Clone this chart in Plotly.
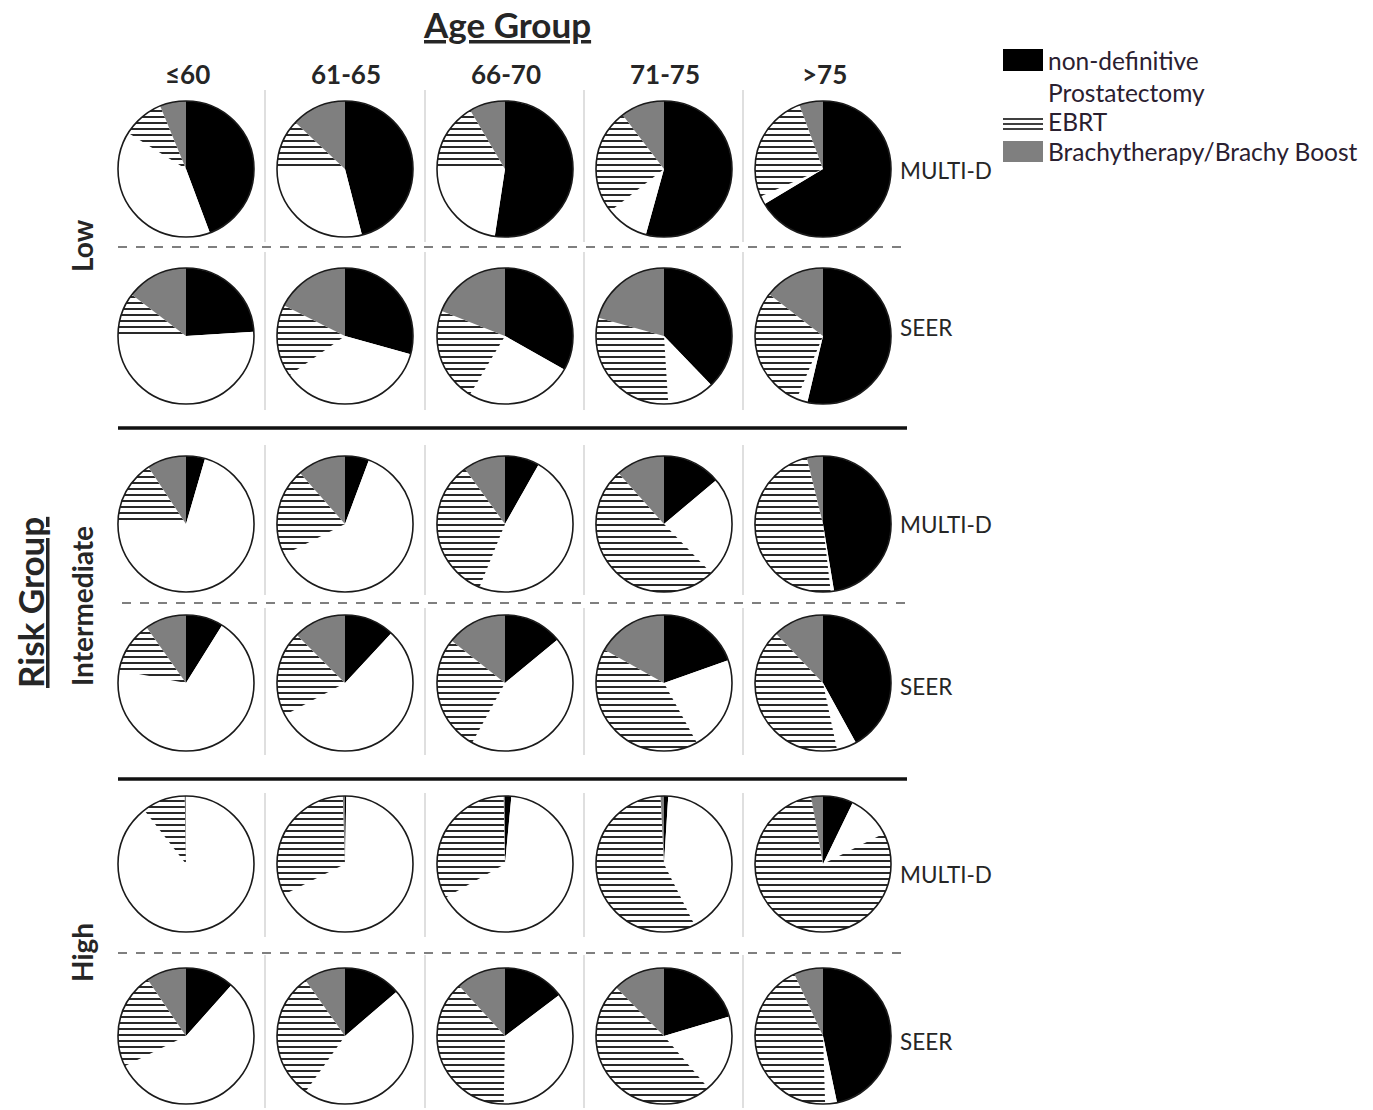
import plotly.graph_objects as go

# ---- data -------------------------------------------------------------
age_groups = ["≤60", "61-65", "66-70", "71-75", ">75"]
risk_groups = ["Low", "Intermediate", "High"]
sources = ["MULTI-D", "SEER"]
treatments = ["non-definitive", "Prostatectomy", "EBRT", "Brachytherapy/Brachy Boost"]

# percent of patients per treatment, one list per age group
# order: non-definitive, Prostatectomy, EBRT, Brachytherapy/Brachy Boost
low_multid = [[44.3, 39.6, 9.9, 6.2], [46.0, 29.0, 12.0, 13.0], [52.4, 22.6, 16.5, 8.5],
              [54.3, 10.1, 25.2, 10.4], [66.4, 2.0, 26.0, 5.6]]
low_seer = [[24.0, 51.0, 10.4, 14.6], [29.3, 35.9, 17.2, 17.6], [33.2, 25.4, 22.4, 19.0],
            [37.8, 11.2, 30.3, 20.7], [53.7, 2.6, 29.2, 14.5]]
int_multid = [[4.5, 71.0, 15.2, 9.3], [5.7, 61.8, 21.0, 11.5], [8.2, 47.9, 33.9, 10.0],
              [13.9, 23.9, 50.6, 11.6], [47.4, 0.8, 48.0, 3.8]]
int_seer = [[8.9, 69.1, 12.2, 9.8], [11.9, 55.3, 20.3, 12.5], [14.0, 44.0, 27.7, 14.3],
            [19.6, 22.4, 41.1, 16.9], [42.0, 4.7, 41.2, 12.1]]
high_multid = [[0.0, 89.5, 10.2, 0.3], [0.3, 67.3, 31.9, 0.5], [1.5, 65.3, 32.9, 0.3],
               [1.0, 41.6, 56.6, 0.8], [7.2, 10.4, 79.6, 2.8]]
high_seer = [[11.6, 56.1, 22.8, 9.5], [13.7, 46.1, 30.4, 9.8], [14.7, 35.6, 37.9, 11.8],
             [20.4, 18.4, 48.8, 12.4], [46.7, 2.8, 43.6, 6.9]]

panel_rows = [low_multid, low_seer, int_multid, int_seer, high_multid, high_seer]
row_sources = [sources[0], sources[1]] * 3

# ---- geometry (pixels) -------------------------------------------------
W, H = 1373, 1110
col_cx = [186, 345, 505, 664, 823]
row_cy = [169, 336, 524, 683, 864, 1036]
source_label_y = [170, 327, 524, 686, 874, 1041]
R = 68

def px(x):
    return x / W

def py(y):
    return 1 - y / H

slice_colors = ["#000000", "#ffffff", "#ffffff", "#7f7f7f"]
slice_patterns = ["", "", "-", ""]

fig = go.Figure()
for r, row_vals in enumerate(panel_rows):
    for c, vals in enumerate(row_vals):
        dom = dict(x=[px(col_cx[c] - R), px(col_cx[c] + R)],
                   y=[py(row_cy[r] + R), py(row_cy[r] - R)])
        fig.add_trace(go.Pie(
            labels=treatments, values=vals, domain=dom,
            sort=False, direction="clockwise", rotation=0,
            textinfo="none", showlegend=False,
            name=f"{row_sources[r]} {age_groups[c]}",
            hovertemplate="%{label}: %{value}%<extra></extra>",
            marker=dict(colors=slice_colors,
                        line=dict(width=0),
                        pattern=dict(shape=slice_patterns, fgcolor="#000000",
                                     bgcolor="#ffffff", size=6, solidity=0.28)),
        ))
        # outer circle outline
        fig.add_trace(go.Pie(
            values=[1], labels=[" "], domain=dom, sort=False,
            textinfo="none", showlegend=False, hoverinfo="skip",
            marker=dict(colors=["rgba(0,0,0,0)"], line=dict(color="#1a1a1a", width=1.6)),
        ))

shapes = []
# light vertical separators between age-group columns
sep_x = [265, 425, 584, 743]
seg_y = [(90, 242), (252, 410), (445, 595), (608, 755), (793, 937), (955, 1108)]
for x in sep_x:
    for y0, y1 in seg_y:
        shapes.append(dict(type="line", xref="paper", yref="paper",
                           x0=px(x), x1=px(x), y0=py(y0), y1=py(y1),
                           line=dict(color="#d4d4d4", width=1.5)))
# dashed lines between MULTI-D and SEER
for y, x0, x1 in [(247, 118, 908), (603, 122, 913), (953, 118, 908)]:
    shapes.append(dict(type="line", xref="paper", yref="paper",
                       x0=px(x0), x1=px(x1), y0=py(y), y1=py(y),
                       line=dict(color="#555555", width=1.3, dash="dash")))
# heavy lines between risk groups
for y in [428, 779]:
    shapes.append(dict(type="line", xref="paper", yref="paper",
                       x0=px(118), x1=px(907), y0=py(y), y1=py(y),
                       line=dict(color="#111111", width=3.5)))

# legend swatches
shapes.append(dict(type="rect", xref="paper", yref="paper",
                   x0=px(1003), x1=px(1043), y0=py(71), y1=py(49),
                   fillcolor="#000000", line=dict(width=0)))
for y in [119, 124, 129]:
    shapes.append(dict(type="line", xref="paper", yref="paper",
                       x0=px(1003), x1=px(1043), y0=py(y), y1=py(y),
                       line=dict(color="#000000", width=1.6)))
shapes.append(dict(type="rect", xref="paper", yref="paper",
                   x0=px(1003), x1=px(1043), y0=py(162), y1=py(141),
                   fillcolor="#7f7f7f", line=dict(width=0)))

FONT = "Lato"
TXT = "#262626"
ann = []
ann.append(dict(text="<b>Age Group</b>", x=px(507), y=py(24), xref="paper", yref="paper",
                showarrow=False, xanchor="center", yanchor="middle",
                font=dict(family=FONT, size=35, color=TXT, lineposition="under")))
for c, lab in enumerate(age_groups):
    ann.append(dict(text=f"<b>{lab}</b>", x=px(col_cx[c] + 1), y=py(74), xref="paper", yref="paper",
                    showarrow=False, xanchor="center", yanchor="middle",
                    font=dict(family=FONT, size=26, color=TXT)))
ann.append(dict(text="<b>Risk Group</b>", x=px(30), y=py(603), xref="paper", yref="paper",
                showarrow=False, xanchor="center", yanchor="middle", textangle=-90,
                font=dict(family=FONT, size=35, color=TXT, lineposition="under")))
for lab, y in zip(risk_groups, [246, 606, 953]):
    ann.append(dict(text=f"<b>{lab}</b>", x=px(82), y=py(y), xref="paper", yref="paper",
                    showarrow=False, xanchor="center", yanchor="middle", textangle=-90,
                    font=dict(family=FONT, size=28, color=TXT)))
for r, src in enumerate(row_sources):
    ann.append(dict(text=src, x=px(898), y=py(source_label_y[r]), xref="paper", yref="paper",
                    showarrow=False, xanchor="left", yanchor="middle",
                    font=dict(family=FONT, size=22.5, color=TXT)))
for lab, y in zip(treatments, [60, 92, 122, 152]):
    ann.append(dict(text=lab, x=px(1046), y=py(y), xref="paper", yref="paper",
                    showarrow=False, xanchor="left", yanchor="middle",
                    font=dict(family=FONT, size=24.5, color="#2a2030")))

fig.update_layout(width=W, height=H, margin=dict(l=0, r=0, t=0, b=0),
                  paper_bgcolor="white", plot_bgcolor="white",
                  shapes=shapes, annotations=ann, showlegend=False)
fig.write_html("out.html")
